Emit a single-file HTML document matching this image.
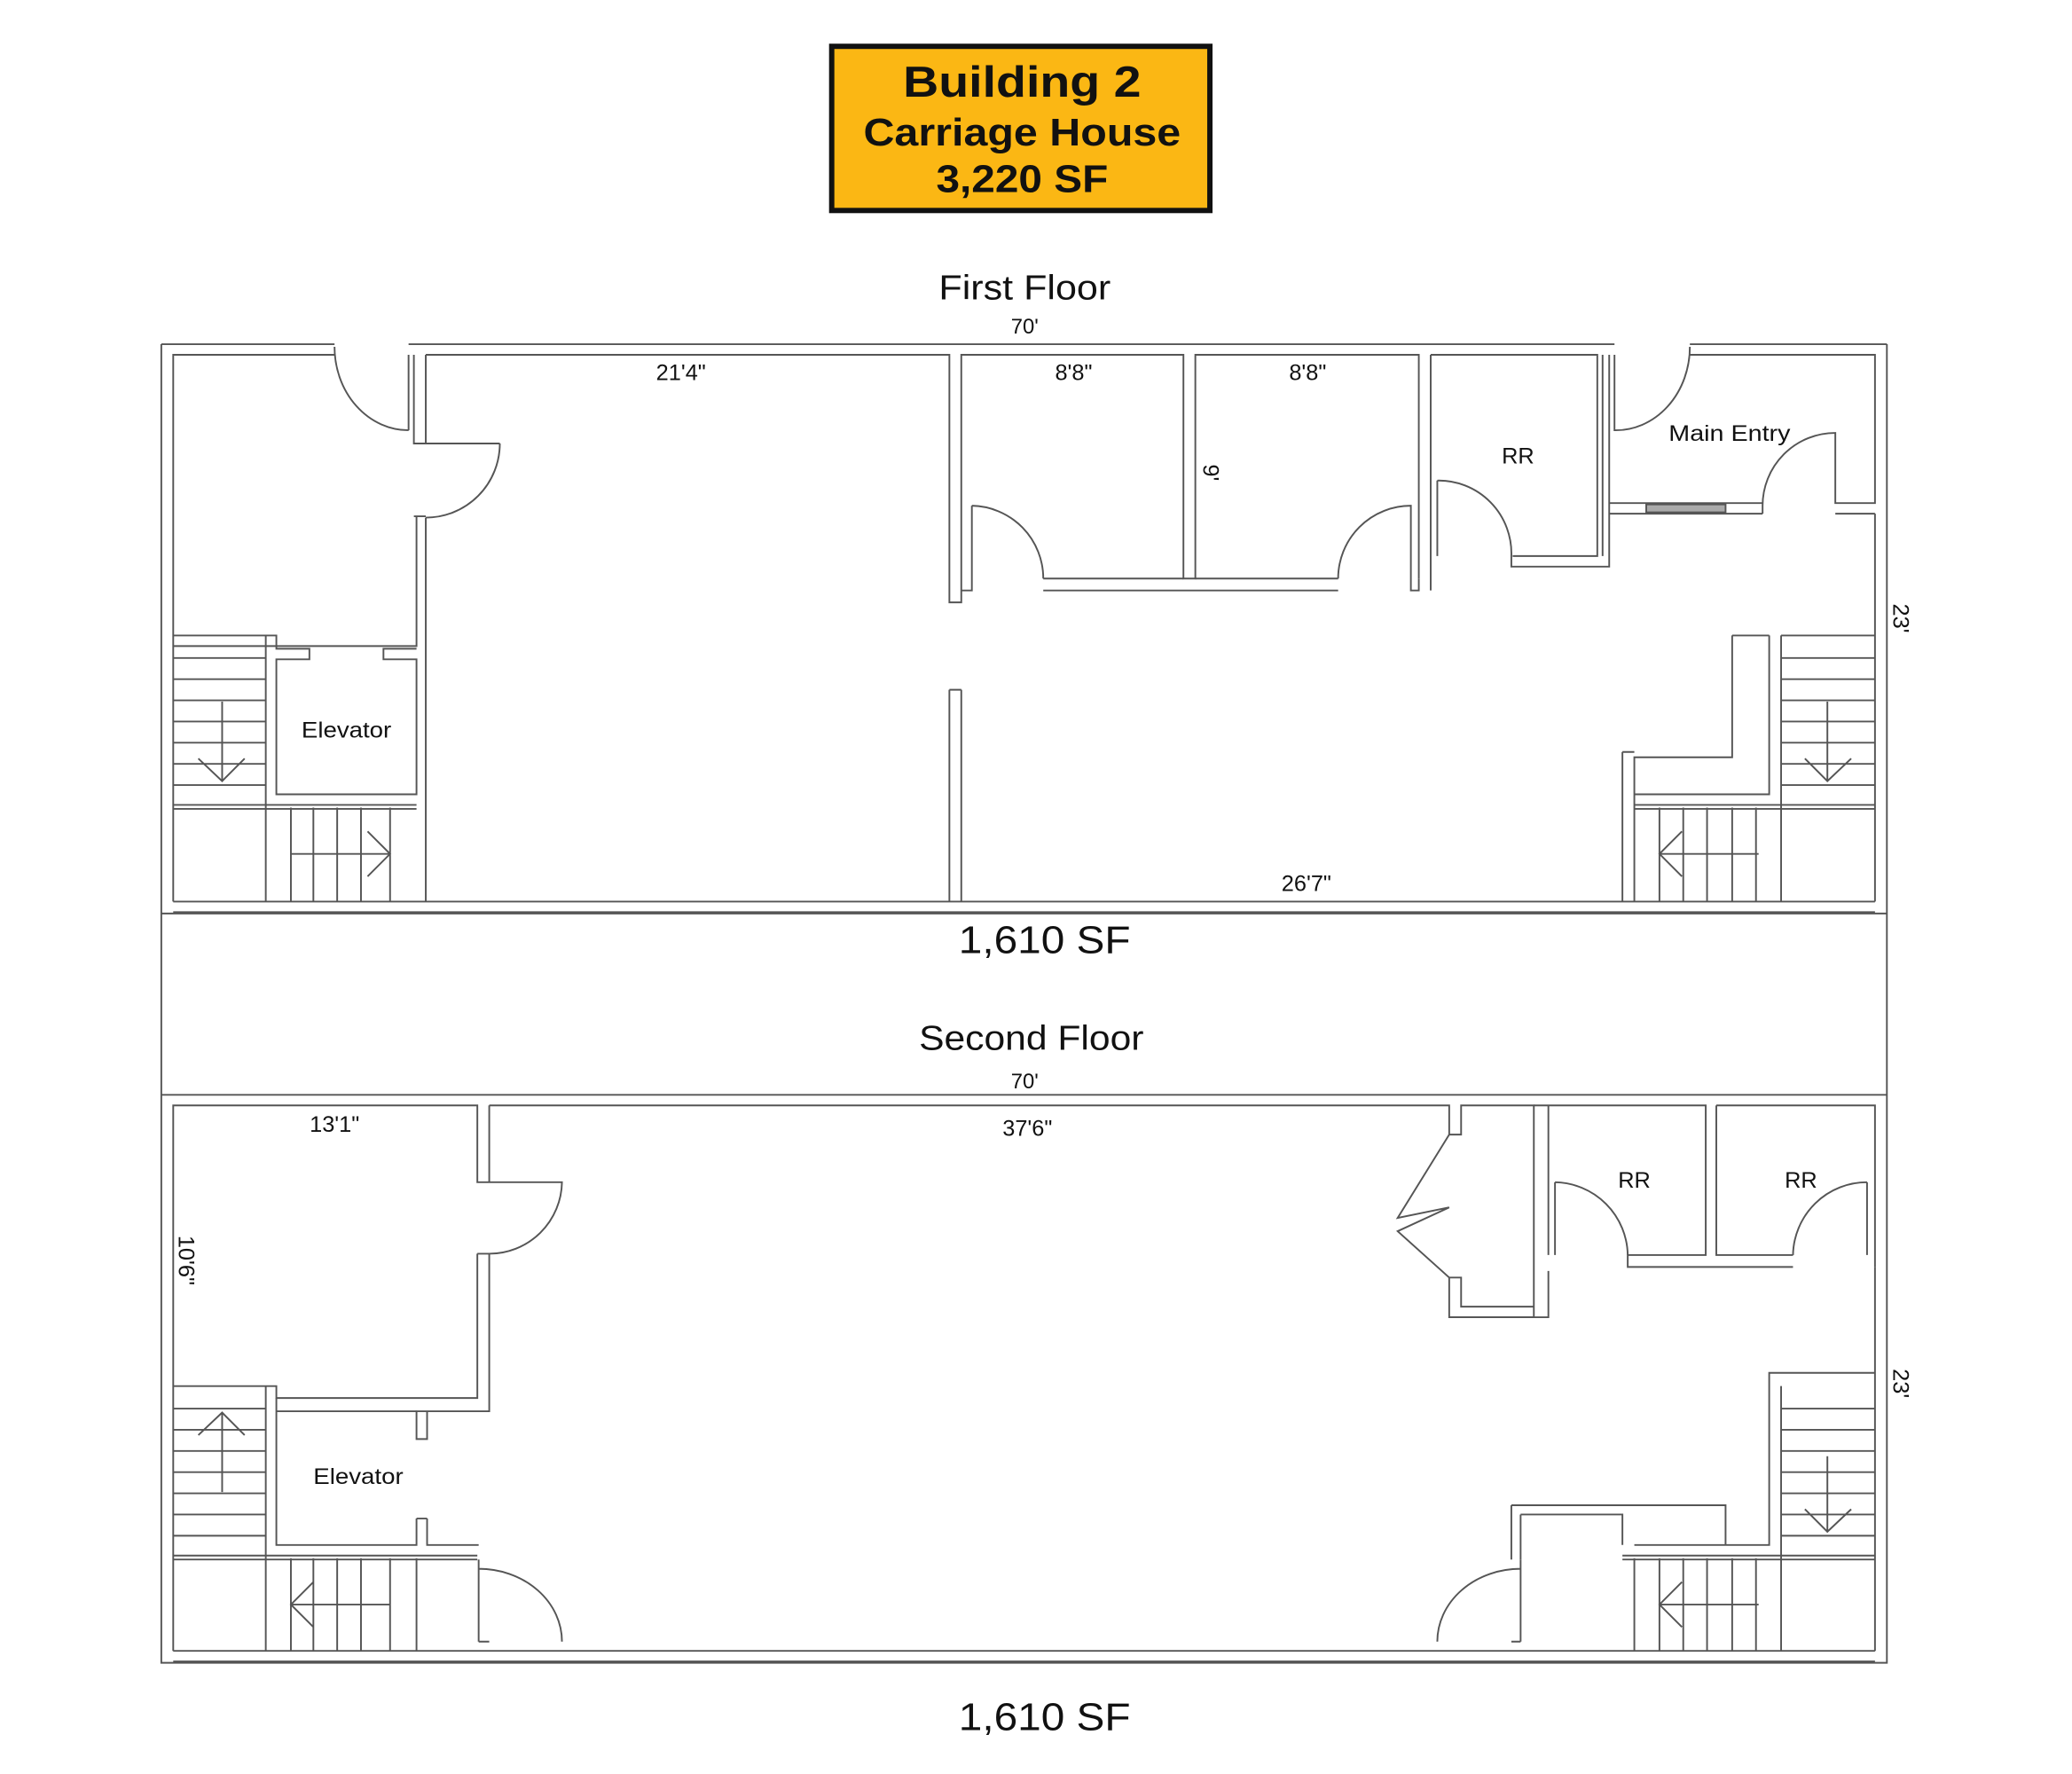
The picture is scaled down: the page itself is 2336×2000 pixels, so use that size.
<!DOCTYPE html>
<html><head><meta charset="utf-8"><style>
html,body{margin:0;padding:0;background:#fff;}
svg{display:block;}
text{font-family:"Liberation Sans",sans-serif;fill:#111;}
</style></head><body>
<svg width="2336" height="2000" viewBox="0 0 1567 1340" preserveAspectRatio="none" xmlns="http://www.w3.org/2000/svg">
<rect x="629" y="35" width="286" height="124" fill="#FBB714" stroke="#111" stroke-width="4"/>
<text x="773" y="73" font-size="33" font-weight="bold" text-anchor="middle" textLength="180" lengthAdjust="spacingAndGlyphs">Building 2</text>
<text x="773" y="110" font-size="29" font-weight="bold" text-anchor="middle" textLength="240" lengthAdjust="spacingAndGlyphs">Carriage House</text>
<text x="773" y="145" font-size="29" font-weight="bold" text-anchor="middle" textLength="130" lengthAdjust="spacingAndGlyphs">3,220 SF</text>

<text x="775" y="226" font-size="26" text-anchor="middle" textLength="130" lengthAdjust="spacingAndGlyphs">First Floor</text>
<text x="775" y="252" font-size="16" text-anchor="middle">70'</text>
<text x="790" y="720" font-size="29" text-anchor="middle" textLength="130" lengthAdjust="spacingAndGlyphs">1,610 SF</text>
<text x="780" y="793" font-size="26" text-anchor="middle" textLength="170" lengthAdjust="spacingAndGlyphs">Second Floor</text>
<text x="775" y="822" font-size="16" text-anchor="middle">70'</text>
<text x="790" y="1307" font-size="29" text-anchor="middle" textLength="130" lengthAdjust="spacingAndGlyphs">1,610 SF</text>

<g fill="none" stroke="#555" stroke-width="1.3">
<path d="M122 260 V1256 H1427 V260"/>
<path d="M122 260 H253 M309 260 H1221 M1278 260 H1427"/>
<path d="M122 690 H1427 M122 827 H1427"/>
<path d="M131 681 V268 H253 M309 268 V325 M313 268 V335 H378 M322 268 V335 M313 390 H322 M315 390 V488 H131"/>
<path d="M322 391 V681"/>
<path d="M253 262 A56 63 0 0 0 309 325"/>
<path d="M378 335 A56 56 0 0 1 322 391"/>
<path d="M131 681 H1418 M131 689 H1418"/>
<path d="M322 268 H718 V455 H727 V268 H895 V437 H904 V268 H1073 V437 M1082 268 H1208 V420 H1144"/>
<path d="M718 521 V681 M727 521 V681 M718 521 H727"/>
<path d="M735 382 V446 H727 M735 382 A55 55 0 0 1 789 437 M789 437 H895 M789 446 H1012 M904 437 H1012 M1012 437 A55 55 0 0 1 1067 382 V446 H1073 V437 M1067 446 H1073"/>
<path d="M1082 268 V446 M1087 363 V420 M1087 363 A55 55 0 0 1 1143 420 M1143 420 V428 H1217 V268 M1212 268 V420"/>
<path d="M1221 268 V325 A56 63 0 0 0 1278 262 M1278 268 H1418 V380 H1388 V327 A55 55 0 0 0 1333 382 V388 M1388 388 H1418 M1418 388 V681"/>
<path d="M1217 380 H1333 M1217 388 H1333"/>
<rect x="1245" y="381" width="60" height="6" fill="#aaa"/>
<path d="M131 480 H209 V490 H234 V498 H209 V600 H315 V498 H290 V490 H315"/>
<path d="M201 480 V681 M131 497 H201 M131 513 H201 M131 529 H201 M131 545 H201 M131 561 H201 M131 577 H201 M131 593 H201 M131 608 H315 M131 611 H315"/>
<path d="M150 573 L168 590 L185 573 M168 530 V590"/>
<path d="M220 610 V681 M237 610 V681 M255 610 V681 M273 610 V681 M295 610 V681 M220 645 H295 M278 628 L295 645 L278 662"/>
<path d="M1310 480 V572 H1236 V681 M1338 480 V600 H1236 M1310 480 H1338 M1236 572 V600 M1227 568 V681 M1227 568 H1236"/>
<path d="M1347 480 V681 M1347 480 H1418 M1347 497 H1418 M1347 513 H1418 M1347 529 H1418 M1347 545 H1418 M1347 561 H1418 M1347 577 H1418 M1347 593 H1418 M1236 608 H1418 M1236 611 H1418"/>
<path d="M1365 573 L1382 590 L1400 573 M1382 530 V590"/>
<path d="M1255 610 V681 M1273 610 V681 M1291 610 V681 M1310 610 V681 M1328 610 V681 M1255 645 H1330 M1272 628 L1255 645 L1272 662"/>

<path d="M131 1247 V835 H361 V893 H425 A55 55 0 0 1 370 947 M370 835 V893 M361 947 H370 M361 947 V1056 H209 V1047 H131 M370 947 V1066 H315 V1087 H323 V1066"/>
<path d="M370 835 H1096 V857 H1105 V835 H1160 V995 H1096 V965 H1105 V987 H1160"/>
<path d="M1096 857 L1057 920 L1096 912 L1057 930 L1096 965"/>
<path d="M1171 835 V948 M1171 835 H1290 V948 H1231 V957 H1356 M1298 835 H1418 V957 M1298 835 V948 H1356 M1160 835 H1171 M1171 960 V995 H1096"/>
<path d="M1176 893 A56 56 0 0 1 1231 948 M1176 893 V948 M1412 893 A56 56 0 0 0 1356 948 M1412 893 V948"/>
<path d="M1418 957 V1247 M131 1247 H1418 M131 1255 H1418"/>
<path d="M209 1056 V1167 H315 V1147 M323 1147 V1167 H362 M315 1147 H323 M209 1066 H315"/>
<path d="M201 1047 V1247 M131 1064 H201 M131 1080 H201 M131 1096 H201 M131 1112 H201 M131 1128 H201 M131 1144 H201 M131 1160 H201 M131 1175 H361 M131 1178 H361"/>
<path d="M150 1084 L168 1067 L185 1084 M168 1067 V1127"/>
<path d="M220 1177 V1247 M237 1177 V1247 M255 1177 V1247 M273 1177 V1247 M295 1177 V1247 M315 1177 V1247 M220 1212 H295 M237 1195 L220 1212 L237 1229"/>
<path d="M362 1185 A63 55 0 0 1 425 1240 M362 1178 V1240 M370 1240 H362"/>
<path d="M1150 1185 A63 55 0 0 0 1087 1240 M1150 1178 V1240 M1143 1240 H1150"/>
<path d="M1143 1137 H1305 V1167 M1143 1137 V1178 M1150 1144 H1227 V1167 M1150 1144 V1178 M1236 1167 H1338 V1037 H1418 M1347 1047 V1247"/>
<path d="M1347 1064 H1418 M1347 1080 H1418 M1347 1096 H1418 M1347 1112 H1418 M1347 1128 H1418 M1347 1144 H1418 M1347 1160 H1418 M1227 1175 H1418 M1227 1178 H1418"/>
<path d="M1365 1140 L1382 1157 L1400 1140 M1382 1100 V1157"/>
<path d="M1236 1177 V1247 M1255 1177 V1247 M1273 1177 V1247 M1291 1177 V1247 M1310 1177 V1247 M1328 1177 V1247 M1255 1212 H1330 M1272 1195 L1255 1212 L1272 1229"/>
</g>

<g font-size="17">
<text x="515" y="287" text-anchor="middle">21'4"</text>
<text x="812" y="287" text-anchor="middle">8'8"</text>
<text x="989" y="287" text-anchor="middle">8'8"</text>
<text x="1148" y="350" text-anchor="middle">RR</text>
<text x="1308" y="333" text-anchor="middle" textLength="92" lengthAdjust="spacingAndGlyphs">Main Entry</text>
<text x="262" y="557" text-anchor="middle" textLength="68" lengthAdjust="spacingAndGlyphs">Elevator</text>
<text x="988" y="673" text-anchor="middle">26'7"</text>
<text transform="translate(910,357) rotate(90)" text-anchor="middle">9'</text>
<text transform="translate(1432,467) rotate(90)" text-anchor="middle">23'</text>
<text x="253" y="855" text-anchor="middle">13'1"</text>
<text x="777" y="858" text-anchor="middle">37'6"</text>
<text x="1236" y="897" text-anchor="middle">RR</text>
<text x="1362" y="897" text-anchor="middle">RR</text>
<text x="271" y="1121" text-anchor="middle" textLength="68" lengthAdjust="spacingAndGlyphs">Elevator</text>
<text transform="translate(135,952) rotate(90)" text-anchor="middle">10'6"</text>
<text transform="translate(1432,1045) rotate(90)" text-anchor="middle">23'</text>
</g>
</svg>
</body></html>
